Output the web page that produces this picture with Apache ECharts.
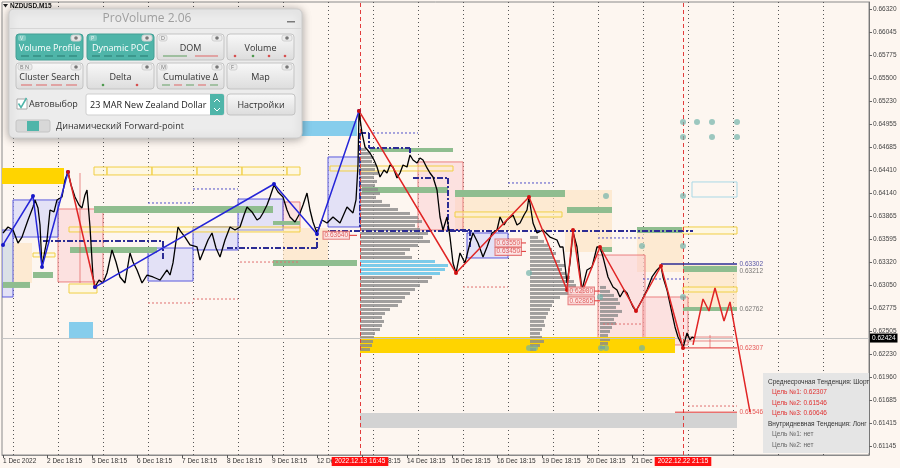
<!DOCTYPE html>
<html>
<head>
<meta charset="utf-8">
<title>NZDUSD,M15 ProVolume</title>
<script src="https://cdn.jsdelivr.net/npm/echarts@6/dist/echarts.min.js"></script>
<style>
  html, body { margin: 0; padding: 0; background: #fdf6f0; }
  #chart { width: 900px; height: 468px; }
</style>
</head>
<body>
<div id="chart"></div>
<script>
// time axis (bar index) and its labels
var timeTickBars = [3, 47, 92, 137, 182, 227, 272, 317, 362, 407, 452, 497, 542, 587, 632];
var timeTickLabels = ['1 Dec 2022', '2 Dec 18:15', '5 Dec 18:15', '6 Dec 18:15', '7 Dec 18:15', '8 Dec 18:15',
  '9 Dec 18:15', '12 Dec 18:15', '13 Dec 18:15', '14 Dec 18:15', '15 Dec 18:15', '16 Dec 18:15',
  '19 Dec 18:15', '20 Dec 18:15', '21 Dec 18:15'];
var gridBars = [13, 58, 103, 148, 193, 238, 283, 328, 373, 418, 463, 508, 553, 598, 643, 688, 733, 778, 823];
var markerBars = [360, 683];
var markerDates = ['2022.12.13 16:45', '2022.12.22 21:15'];

// price axis
var priceTicks = [0.66320, 0.66045, 0.65775, 0.65500, 0.65230, 0.64955, 0.64685, 0.64410, 0.64140, 0.63865,
  0.63595, 0.63320, 0.63050, 0.62775, 0.62505, 0.62230, 0.61960, 0.61685, 0.61415, 0.61145];
var currentPrice = 0.62424;

// NZDUSD M15 path [bar, close]
var priceBars = [[3,0.63668],[8,0.63739],[13,0.63703],[18,0.63549],[22,0.63620],[28,0.63822],[33,0.63976],[35,0.64059],
  [38,0.63964],[40,0.63763],[42,0.63265],[45,0.63467],[47,0.63585],[50,0.63940],[54,0.63917],[57,0.64059],[62,0.64094],
  [65,0.64295],[68,0.64390],[71,0.64236],[75,0.64094],[79,0.63999],[82,0.63964],[85,0.64118],[87,0.64177],[90,0.63739],
  [93,0.63147],[95,0.63028],[99,0.63111],[103,0.63076],[107,0.63194],[112,0.63467],[116,0.63324],[120,0.63147],
  [125,0.63076],[130,0.63431],[133,0.63324],[137,0.63230],[142,0.63076],[147,0.63170],[153,0.63147],[160,0.63111],
  [167,0.63230],[170,0.63170],[173,0.63313],[178,0.63739],[181,0.63680],[185,0.63620],[190,0.63526],[197,0.63502],
  [200,0.63348],[204,0.63467],[208,0.63585],[212,0.63668],[216,0.63490],[220,0.63384],[225,0.63585],[230,0.63739],
  [235,0.63703],[240,0.63739],[244,0.63881],[247,0.63976],[252,0.63917],[257,0.63822],[260,0.63845],[263,0.63905],
  [267,0.63999],[270,0.64094],[274,0.64236],[278,0.64153],[283,0.64094],[287,0.63940],[290,0.63857],[295,0.63798],
  [300,0.63905],[303,0.63999],[307,0.64141],[310,0.63940],[313,0.63798],[317,0.63668],[322,0.63822],[327,0.63786],
  [333,0.63857],[340,0.63786],[347,0.63976],[353,0.63905],[356,0.64059],[358,0.64473],[359,0.65113],[362,0.64852],
  [365,0.64686],[370,0.64615],[374,0.64532],[377,0.64449],[380,0.64331],[384,0.64414],[387,0.64378],[390,0.64473],
  [393,0.64449],[397,0.64319],[400,0.64378],[403,0.64473],[407,0.64449],[410,0.64591],[413,0.64532],[417,0.64497],
  [420,0.64556],[423,0.64532],[427,0.64438],[430,0.64378],[433,0.64331],[437,0.64177],[440,0.63857],[443,0.63703],
  [447,0.63857],[450,0.63620],[453,0.63313],[456,0.63194],[460,0.63431],[465,0.63313],[470,0.63549],[473,0.63668],
  [478,0.63549],[483,0.63384],[487,0.63502],[492,0.63668],[497,0.63703],[500,0.63857],[504,0.63763],[507,0.63822],
  [513,0.63881],[517,0.63763],[520,0.63786],[524,0.63881],[527,0.63940],[529,0.64094],[533,0.63786],[537,0.63668],
  [543,0.63703],[550,0.63620],[557,0.63585],[560,0.63502],[563,0.63502],[567,0.63076],[570,0.63313],[573,0.63680],
  [577,0.63502],[582,0.62993],[587,0.63230],[592,0.63265],[597,0.63502],[600,0.63502],[603,0.63384],[608,0.63147],
  [613,0.63028],[617,0.62993],[620,0.62910],[624,0.62993],[627,0.62957],[633,0.62792],[636,0.62744],[642,0.62874],
  [647,0.62993],[652,0.63147],[657,0.63230],[661,0.63277],[663,0.63147],[667,0.62993],[672,0.62720],[675,0.62555],
  [678,0.62436],[682,0.62342],[683,0.62306],[687,0.62484],[690,0.62401],[692,0.62436],[695,0.62424]];

// zigzag legs
var zigBlueA = [[3,0.63526],[33,0.64106],[42,0.63265],[68,0.64390]];
var zigRedA = [[68,0.64390],[95,0.63028]];
var zigBlueB = [[95,0.63028],[274,0.64248],[317,0.63656],[359,0.65113]];
var zigRedB = [[359,0.65113],[456,0.63194],[529,0.64094],[567,0.62993],[573,0.63703],[582,0.62969],[600,0.63502],
  [636,0.62744],[661,0.63277],[683,0.62306]];
var zigForecast = [[693,0.62342],[703,0.62886],[709,0.62744],[715,0.63017],[724,0.62626],[730,0.62851],[750,0.61546]];

// zones [barFrom, barTo, priceHigh, priceLow]
var peachBoxes = [[13,32,0.63549,0.63076],[283,328,0.63727,0.63324],[455,565,0.64094,0.63703],
  [565,612,0.64177,0.63443],[637,683,0.63739,0.63206],[683,737,0.63289,0.62756]];
var limeBoxes = [[2,13,0.63549,0.63076]];
var pinkBoxes = [[58,103,0.63952,0.63088],[283,300,0.64035,0.63727],[418,463,0.64509,0.63703],
  [598,645,0.63407,0.62401],[643,688,0.62910,0.62342]];
var valueBoxes = [[2,13,0.63703,0.62910],[13,58,0.64059,0.63620],[148,193,0.63490,0.63099],[193,238,0.63739,0.63467],
  [238,283,0.64070,0.63703],[328,360,0.64568,0.63739],[467,508,0.63668,0.63372]];
var goldBars = [[2,64,0.64438,0.64248],[360,675,0.62436,0.62247]];
var skyBars = [[290,357,0.64994,0.64816],[69,93,0.62614,0.62424]];
var grayBands = [[360,737,0.61536,0.61359]];
var greenBars = [[3,30,0.63088,0.63017],[33,53,0.63206,0.63135],[70,157,0.63502,0.63431],[94,273,0.63988,0.63905],
  [273,300,0.63810,0.63763],[273,357,0.63348,0.63277],[362,448,0.64213,0.64141],[370,453,0.64674,0.64627],
  [455,565,0.64177,0.64094],[567,612,0.63976,0.63905],[600,612,0.63502,0.63443],[637,682,0.63739,0.63668],
  [683,737,0.63277,0.63206],[683,737,0.62792,0.62744]];
var yellowBoxes = [[94,107,0.64449,0.64355],[107,152,0.64449,0.64355],[152,197,0.64449,0.64355],
  [197,242,0.64449,0.64355],[242,287,0.64449,0.64355],[287,300,0.64449,0.64355],[69,300,0.63739,0.63680],
  [33,55,0.63431,0.63384],[69,97,0.63064,0.62957],[330,453,0.64461,0.64402],[455,562,0.63917,0.63857],
  [683,737,0.63739,0.63656],[683,737,0.63028,0.62969]];
var cyanBoxes = [[692,737,0.64272,0.64094]];

// volume profiles (bar lengths per price bin, top bin first)
var profileBin = 0.00047368;
var profileA = {bar: 360, top: 0.64651, poc: [0.63150, 0.63340],
  vols: [6,10,14,12,16,15,18,14,17,15,18,20,16,22,30,38,50,58,62,55,60,68,63,70,58,50,45,52,75,88,85,80,72,68,60,
    55,50,45,42,38,30,25,22,24,22,20,15,14,13,12,10]};
var profileB = {bar: 530, top: 0.63609, poc: null,
  vols: [8,14,18,22,26,24,30,35,32,36,40,44,46,47,42,30,24,22,20,18,16,14,15,12,10,12,14,10,6]};
var profileC = {bar: 600, top: 0.63017, poc: null,
  vols: [6,10,14,18,20,16,22,18,14,16,12,10,8,10,8,5]};

// level lines [barFrom, priceFrom, barTo, priceTo]
var navyDashDot = [[43,0.63573,163,0.63573],[163,0.63573,163,0.63348],[227,0.63490,317,0.63490],
  [317,0.63490,317,0.63739],[360,0.64852,360,0.63739],[360,0.64852,369,0.64852],[369,0.64852,369,0.64674],
  [369,0.64674,410,0.64674],[410,0.64674,410,0.64615],[413,0.64319,448,0.64319],[448,0.64319,448,0.63703],
  [448,0.63703,470,0.63703],[470,0.63703,470,0.63502],[330,0.63692,693,0.63692]];
var navyDotted = [[193,0.64189,238,0.64189],[148,0.64023,193,0.64023],[373,0.64852,418,0.64852],
  [508,0.64260,553,0.64260],[598,0.63609,643,0.63609],[643,0.63123,688,0.63123]];
var redDotted = [[148,0.62839,193,0.62839],[193,0.62886,238,0.62886],[240,0.63324,300,0.63324],
  [463,0.63028,508,0.63028],[603,0.62590,643,0.62590],[688,0.61619,737,0.61619]];
var navySolid = [[661,0.63302,737,0.63302]];
var redSolid = [[683,0.62307,737,0.62307],[675,0.61546,737,0.61546],[349,0.63640,357,0.63640],
  [518,0.63550,526,0.63550],[518,0.63450,526,0.63450],[593,0.62980,600,0.62980],[593,0.62865,600,0.62865]];
var redSoft = [[683,0.62436,733,0.62436],[683,0.62389,733,0.62389],[710,0.62460,710,0.62307],[80,0.64378,80,0.63076]];

var levelBar = 738;
var levelPrices = [0.63302, 0.63212, 0.62762, 0.62307, 0.61546];
var priceTags = [[323,0.63640],[495,0.63550],[495,0.63450],[568,0.62980],[568,0.62865]];
var tealDots = [[683,0.64982],[697,0.64982],[712,0.64982],[737,0.64982],[683,0.64805],[712,0.64805],[737,0.64805],
  [606,0.64106],[683,0.64106],[642,0.63514],[683,0.63514],[600,0.62910],[683,0.62910],[529,0.62306],
  [535,0.62306],[601,0.62306],[606,0.62306],[642,0.62306],[529,0.63194]];

var infoLines = ['Среднесрочная Тенденция: Шорт', 'Цель №1: 0.62307', 'Цель №2: 0.61546', 'Цель №3: 0.60646',
  'Внутридневная Тенденция: Лонг', 'Цель №1: нет', 'Цель №2: нет'];
var panelButtons = [['Volume Profile', 'V', true], ['Dynamic POC', 'P', true], ['DOM', 'D', false], ['Volume', '', false],
  ['Cluster Search', 'B N', false], ['Delta', '', false], ['Cumulative Δ', 'M', false], ['Map', 'F', false]];

var axisFont = 'Liberation Sans';
var uiFont = 'Open Sans';

function boxSeries(data, fill, stroke, z) {
  return {
    type: 'custom', silent: true, clip: true, z: z, data: data,
    encode: {x: [0, 1], y: [2, 3]},
    renderItem: function (params, api) {
      var a = api.coord([api.value(0), api.value(2)]);
      var b = api.coord([api.value(1), api.value(3)]);
      return {
        type: 'rect',
        shape: {x: a[0], y: a[1], width: b[0] - a[0], height: b[1] - a[1]},
        style: {fill: fill, stroke: stroke || null, lineWidth: 1}
      };
    }
  };
}

function segSeries(data, color, width, dash, z) {
  return {
    type: 'custom', silent: true, clip: true, z: z, data: data,
    encode: {x: [0, 2], y: [1, 3]},
    renderItem: function (params, api) {
      var a = api.coord([api.value(0), api.value(1)]);
      var b = api.coord([api.value(2), api.value(3)]);
      return {
        type: 'line',
        shape: {x1: a[0], y1: a[1], x2: b[0], y2: b[1]},
        style: {stroke: color, lineWidth: width, lineDash: dash || null}
      };
    }
  };
}

function profileSeries(prof, z) {
  var data = prof.vols.map(function (v, i) {
    return [prof.bar, prof.bar + v, prof.top - i * profileBin];
  });
  return {
    type: 'custom', silent: true, clip: true, z: z, data: data,
    encode: {x: [0, 1], y: 2},
    renderItem: function (params, api) {
      var p = api.value(2);
      var a = api.coord([api.value(0), p + profileBin / 2]);
      var b = api.coord([api.value(1), p - profileBin / 2]);
      var poc = prof.poc && p >= prof.poc[0] && p <= prof.poc[1];
      return {
        type: 'rect',
        shape: {x: a[0], y: a[1], width: b[0] - a[0], height: Math.max(1, b[1] - a[1] - 1)},
        style: {fill: poc ? '#7ccbe9' : 'rgba(138,138,138,0.8)'}
      };
    }
  };
}

function zigSeries(data, color, dotColor, showDots) {
  return {
    type: 'line', data: data, z: 7, clip: true, silent: true,
    symbol: 'circle', symbolSize: 4, showSymbol: showDots,
    lineStyle: {color: color, width: 1.5},
    itemStyle: {color: dotColor}
  };
}

var series = [
  boxSeries(peachBoxes, 'rgba(253,226,190,0.6)', null, 1),
  boxSeries(limeBoxes, '#ecf6cf', null, 1),
  boxSeries(pinkBoxes, 'rgba(250,200,205,0.45)', 'rgba(232,110,110,0.85)', 1),
  boxSeries(valueBoxes, 'rgba(206,208,252,0.55)', '#5a5ade', 1),
  boxSeries(goldBars, '#ffd400', null, 1),
  boxSeries(skyBars, '#86cdec', null, 1),
  boxSeries(grayBands, '#d3d3d3', null, 1),
  boxSeries(yellowBoxes, 'rgba(255,248,200,0.35)', '#f1cf45', 2),
  boxSeries(cyanBoxes, null, '#a9d8e6', 2),
  boxSeries(greenBars, '#8fbd8f', null, 2),
  profileSeries(profileA, 3),
  profileSeries(profileB, 3),
  profileSeries(profileC, 3),
  segSeries(navyDotted, '#5050c8', 1, [2, 2], 4),
  segSeries(redDotted, '#e07070', 1, [2, 2], 4),
  segSeries(redSoft, 'rgba(225,80,80,0.65)', 1, null, 4),
  segSeries(navyDashDot, '#2c2c94', 2, [6, 2, 2, 2], 4),
  {
    type: 'line', data: priceBars, z: 5, clip: true, silent: true,
    showSymbol: false, symbol: 'none',
    lineStyle: {color: '#000', width: 1.3},
    markLine: {
      silent: true, symbol: 'none', animation: false, precision: 5,
      data: [
        {yAxis: currentPrice, lineStyle: {color: '#c4c4c4', type: 'solid', width: 1},
          label: {show: true, position: 'end', distance: 1, formatter: currentPrice.toFixed(5),
            backgroundColor: '#000', color: '#fff', fontSize: 6.5, fontFamily: axisFont, padding: [1, 2]}},
        {xAxis: markerBars[0], lineStyle: {color: '#e23c3c', type: [4, 3], width: 1},
          label: {show: true, position: 'start', distance: 2, formatter: markerDates[0],
            backgroundColor: '#ff1010', color: '#fff', fontSize: 6.5, fontFamily: axisFont, padding: [1, 3]}},
        {xAxis: markerBars[1], lineStyle: {color: '#e23c3c', type: [4, 3], width: 1},
          label: {show: true, position: 'start', distance: 2, formatter: markerDates[1],
            backgroundColor: '#ff1010', color: '#fff', fontSize: 6.5, fontFamily: axisFont, padding: [1, 3]}}
      ]
    }
  },
  zigSeries(zigBlueA, '#2525d8', '#1818c8', true),
  zigSeries(zigRedA, '#e02525', '#d01010', true),
  zigSeries(zigBlueB, '#2525d8', '#1818c8', true),
  zigSeries(zigRedB, '#e02525', '#d01010', true),
  zigSeries(zigForecast, '#e02525', '#e02525', false),
  segSeries(navySolid, '#2c2c94', 1.5, null, 6),
  segSeries(redSolid, '#e03030', 1, null, 6),
  {
    type: 'scatter', data: tealDots, z: 6, silent: true, symbolSize: 6,
    itemStyle: {color: 'rgba(110,178,168,0.85)'}
  },
  {
    type: 'scatter', z: 8, silent: true, symbolSize: 1, itemStyle: {color: 'transparent'},
    data: priceTags,
    label: {show: true, position: 'right', distance: 0, formatter: function (p) { return p.value[1].toFixed(5); },
      fontSize: 6.5, fontFamily: axisFont, color: '#d83c3c', backgroundColor: '#fde3e3',
      borderColor: '#e06060', borderWidth: 1, padding: [0, 1]}
  },
  {
    type: 'scatter', z: 8, silent: true, symbolSize: 1, itemStyle: {color: 'transparent'},
    data: levelPrices.map(function (p, i) {
      var c = i === 0 ? '#2c2c94' : (i < 3 ? '#555' : '#e03030');
      return {value: [levelBar, p], label: {color: c}};
    }),
    label: {show: true, position: 'right', distance: 1, formatter: function (p) { return p.value[1].toFixed(5); },
      fontSize: 6.5, fontFamily: axisFont}
  }
];

// ProVolume panel and info box drawn as overlay
var g = [];
function add(el, z) { el.z = z || 100; g.push(el); }
var btnGrad = new echarts.graphic.LinearGradient(0, 0, 0, 1, [{offset: 0, color: '#f9f9f9'}, {offset: 1, color: '#dcdcdc'}]);
var teal = '#4fb5a9';

add({type: 'rect', shape: {x: 9, y: 9, width: 293, height: 129, r: 5},
  style: {fill: '#ececec', stroke: '#cdcdcd', lineWidth: 1, shadowBlur: 8, shadowColor: 'rgba(0,0,0,0.35)', shadowOffsetY: 1}});
add({type: 'line', shape: {x1: 10, y1: 28.5, x2: 301, y2: 28.5}, style: {stroke: '#d6d6d6', lineWidth: 1}}, 101);
add({type: 'text', x: 147, y: 19, style: {text: 'ProVolume 2.06', fontSize: 12, fontFamily: uiFont, fill: '#9e9e9e',
  align: 'center', verticalAlign: 'middle'}}, 101);
add({type: 'rect', shape: {x: 287, y: 21, width: 8, height: 1.5}, style: {fill: '#7a7a7a'}}, 101);

var cols = [16, 87, 157, 227], rows = [34, 63], bw = 67, bh = 26;
panelButtons.forEach(function (b, i) {
  var x = cols[i % 4], y = rows[Math.floor(i / 4)], on = b[2];
  add({type: 'rect', shape: {x: x, y: y, width: bw, height: bh, r: 3},
    style: {fill: on ? teal : btnGrad, stroke: on ? '#44a095' : '#c3c3c3', lineWidth: 1}}, 101);
  add({type: 'text', x: x + bw / 2, y: y + bh / 2 + 1, style: {text: b[0], fontSize: 9, fontFamily: uiFont,
    fill: on ? '#fff' : '#333', align: 'center', verticalAlign: 'middle'}}, 102);
  if (b[1]) {
    add({type: 'rect', shape: {x: x + 2, y: y + 1, width: b[1].length > 1 ? 14 : 8, height: 6, r: 2},
      style: {fill: on ? '#7fcac1' : '#ececec', stroke: on ? null : '#d0d0d0'}}, 102);
    add({type: 'text', x: x + 4, y: y + 4, style: {text: b[1], fontSize: 5.5, fontFamily: uiFont,
      fill: on ? '#eaf6f4' : '#777', verticalAlign: 'middle'}}, 103);
  }
  add({type: 'rect', shape: {x: x + bw - 12, y: y + 1, width: 10, height: 6, r: 2},
    style: {fill: on ? '#e6e6e6' : '#ececec', stroke: '#d0d0d0'}}, 102);
  add({type: 'circle', shape: {cx: x + bw - 7, cy: y + 4, r: 1.8}, style: {fill: '#777'}}, 103);
  var yb = y + bh - 4;
  var k;
  if (i === 0 || i === 1 || i === 4 || i === 6) {
    for (k = 0; k < 5; k++) {
      var c = i < 2 ? '#2e8479' : (i === 4 ? '#e07a7a' : (k % 2 ? '#e07a7a' : '#7aab7a'));
      if (i === 4 && k === 4) break;
      var seg = i === 4 ? 15 : 12;
      add({type: 'line', shape: {x1: x + 5 + k * seg, y1: yb, x2: x + 5 + k * seg + seg - 4, y2: yb},
        style: {stroke: c, lineWidth: 1.2}}, 102);
    }
  } else if (i === 2) {
    add({type: 'line', shape: {x1: x + 6, y1: yb, x2: x + 30, y2: yb}, style: {stroke: '#72a872', lineWidth: 1.2}}, 102);
    add({type: 'line', shape: {x1: x + 38, y1: yb, x2: x + 61, y2: yb}, style: {stroke: '#e07a7a', lineWidth: 1.2}}, 102);
  } else if (i === 3) {
    [[8, '#d65050'], [26, '#4f9a4f'], [42, '#d65050'], [58, '#d65050']].forEach(function (d) {
      add({type: 'circle', shape: {cx: x + d[0], cy: yb, r: 1.3}, style: {fill: d[1]}}, 102);
    });
  } else if (i === 5) {
    add({type: 'circle', shape: {cx: x + 16, cy: yb, r: 1.3}, style: {fill: '#4f9a4f'}}, 102);
    add({type: 'circle', shape: {cx: x + 50, cy: yb, r: 1.3}, style: {fill: '#d65050'}}, 102);
  }
});

add({type: 'rect', shape: {x: 17, y: 99, width: 10, height: 10}, style: {fill: '#fff', stroke: '#a8a8a8'}}, 101);
add({type: 'polyline', shape: {points: [[18.5, 103.5], [21, 107.5], [26.5, 98]]}, style: {stroke: teal, lineWidth: 1.5, fill: null}}, 102);
add({type: 'text', x: 29, y: 104.5, style: {text: 'Автовыбор', fontSize: 9, fontFamily: uiFont, fill: '#333', verticalAlign: 'middle'}}, 101);
add({type: 'rect', shape: {x: 86, y: 94, width: 138, height: 21, r: 2}, style: {fill: '#fff', stroke: '#cfcfcf'}}, 101);
add({type: 'text', x: 90, y: 105, style: {text: '23 MAR New Zealand Dollar', fontSize: 9, fontFamily: uiFont, fill: '#222', verticalAlign: 'middle'}}, 102);
add({type: 'rect', shape: {x: 210, y: 94, width: 14, height: 21, r: [0, 2, 2, 0]}, style: {fill: teal}}, 102);
add({type: 'polyline', shape: {points: [[214, 102], [217, 99], [220, 102]]}, style: {stroke: '#fff', lineWidth: 1, fill: null}}, 103);
add({type: 'polyline', shape: {points: [[214, 108], [217, 111], [220, 108]]}, style: {stroke: '#fff', lineWidth: 1, fill: null}}, 103);
add({type: 'rect', shape: {x: 227, y: 94, width: 68, height: 21, r: 3}, style: {fill: btnGrad, stroke: '#c3c3c3'}}, 101);
add({type: 'text', x: 261, y: 105, style: {text: 'Настройки', fontSize: 9, fontFamily: uiFont, fill: '#333', align: 'center', verticalAlign: 'middle'}}, 102);
add({type: 'rect', shape: {x: 16, y: 120, width: 34, height: 12, r: 2}, style: {fill: '#d8d8d8', stroke: '#c4c4c4'}}, 101);
add({type: 'rect', shape: {x: 27, y: 121, width: 12, height: 10}, style: {fill: teal}}, 102);
add({type: 'text', x: 56, y: 126, style: {text: 'Динамический Forward-point', fontSize: 9, fontFamily: uiFont, fill: '#333', verticalAlign: 'middle'}}, 101);

// symbol caption
add({type: 'polygon', shape: {points: [[3, 4], [8, 4], [5.5, 7.5]]}, style: {fill: '#222'}}, 60);
add({type: 'text', x: 10, y: 6, style: {text: 'NZDUSD,M15', fontSize: 6.5, fontWeight: 'bold', fontFamily: axisFont, fill: '#111', verticalAlign: 'middle'}}, 60);

// trend info box
add({type: 'rect', shape: {x: 763, y: 373, width: 106, height: 80}, style: {fill: '#e5e5e5'}}, 50);
infoLines.forEach(function (t, i) {
  var head = i === 0 || i === 4;
  add({type: 'text', x: head ? 768 : 772, y: 382 + i * 10.5, style: {text: t, fontSize: 6.5, fontFamily: axisFont,
    fill: head ? '#333' : (i < 4 ? '#e03030' : '#666'), verticalAlign: 'middle'}}, 51);
});

var myChart = echarts.init(document.getElementById('chart'));
var option = {
  backgroundColor: '#fdf6f0',
  animation: false,
  grid: {left: 2, right: 31, top: 2, bottom: 13, show: true, borderColor: '#8a8a8a', borderWidth: 1},
  xAxis: [{
    type: 'value', min: 2, max: 869, position: 'bottom',
    axisLine: {show: true, lineStyle: {color: '#8a8a8a'}},
    axisTick: {show: true, customValues: timeTickBars, length: 3, lineStyle: {color: '#555'}},
    axisLabel: {
      customValues: timeTickBars, align: 'left', margin: 3,
      fontSize: 6.5, fontFamily: axisFont, color: '#333',
      formatter: function (v) { var i = timeTickBars.indexOf(v); return i >= 0 ? timeTickLabels[i] : ''; }
    },
    splitLine: {show: false}
  }, {
    type: 'value', min: 2, max: 869, position: 'top',
    axisLine: {show: false}, axisLabel: {show: false},
    axisTick: {show: false, customValues: gridBars},
    splitLine: {show: true, lineStyle: {color: '#555', type: [1, 3], width: 1}}
  }],
  yAxis: {
    type: 'value', position: 'right', min: 0.61039, max: 0.66403,
    axisLine: {show: true, lineStyle: {color: '#777'}},
    axisTick: {show: true, customValues: priceTicks, length: 3, lineStyle: {color: '#666'}},
    axisLabel: {customValues: priceTicks, margin: 4, fontSize: 6.5, fontFamily: axisFont, color: '#444',
      formatter: function (v) { return v.toFixed(5); }},
    splitLine: {show: false}
  },
  graphic: g,
  series: series
};
myChart.setOption(option);
</script>
</body>
</html>
